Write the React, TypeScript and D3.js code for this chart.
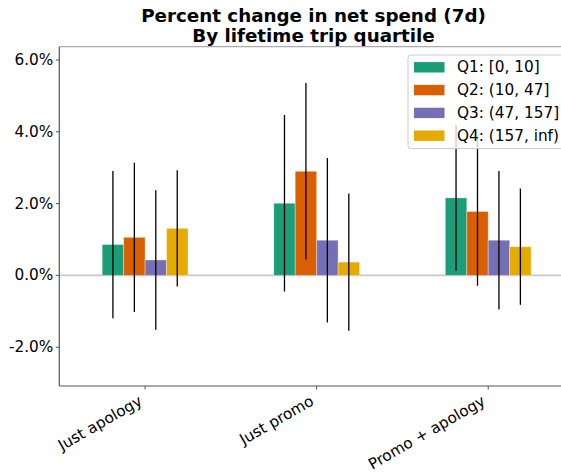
import React from "react";
import * as d3 from "d3";

// Categories and series (values in percent)
const categories = ["Just apology", "Just promo", "Promo + apology"];
const quartiles = ["Q1: [0, 10]", "Q2: (10, 47]", "Q3: (47, 157]", "Q4: (157, inf)"];
const colors = ["#1b9e77", "#d95f02", "#7570b3", "#e6ab02"];

const q1Values = [0.86, 2.01, 2.16];
const q2Values = [1.06, 2.9, 1.78];
const q3Values = [0.43, 0.98, 0.98];
const q4Values = [1.31, 0.37, 0.8];

const q1Errors = [2.05, 2.46, 2.03];
const q2Errors = [2.08, 2.46, 2.07];
const q3Errors = [1.94, 2.29, 1.93];
const q4Errors = [1.62, 1.91, 1.62];

const yTicks = [-2, 0, 2, 4, 6];
const titleLines = ["Percent change in net spend (7d)", "By lifetime trip quartile"];

const seriesValues = [q1Values, q2Values, q3Values, q4Values];
const seriesErrors = [q1Errors, q2Errors, q3Errors, q4Errors];

const W = 561;
const H = 472;
const plot = { left: 59.3, right: 574, top: 46.7, bottom: 386 };
const FONT = "'DejaVu Sans', sans-serif";
const TICK_FONT = 15.3;

export default function App() {
  const x = d3.scaleLinear().domain([-0.5, categories.length - 0.5]).range([plot.left, plot.right]);
  const y = d3.scaleLinear().domain([-3.08, 6.37]).range([plot.bottom, plot.top]);
  const groupWidth = 0.5;
  const barW = groupWidth / quartiles.length;
  const fmt = (v: number) => `${v < 0 ? "-" : ""}${Math.abs(v).toFixed(1)}%`;

  return (
    <svg
      width={W}
      height={H}
      style={{ position: "absolute", left: 0, top: 0, background: "#fff" }}
      fontFamily={FONT}
    >
      <defs>
        <clipPath id="plotClip">
          <rect x={plot.left} y={plot.top} width={plot.right - plot.left} height={plot.bottom - plot.top} />
        </clipPath>
      </defs>

      {/* title */}
      {titleLines.map((t, i) => (
        <text
          key={t}
          x={313.5}
          y={21.5 + i * 20.3}
          textAnchor="middle"
          fontWeight="bold"
          fontSize={18.3}
          fill="#000"
        >
          {t}
        </text>
      ))}

      <g clipPath="url(#plotClip)">
        {/* zero reference line */}
        <line x1={plot.left} x2={plot.right} y1={y(0)} y2={y(0)} stroke="#c8c8c8" strokeWidth={1.6} />

        {/* bars */}
        {seriesValues.map((vals, s) =>
          vals.map((v, c) => {
            const x0 = x(c - groupWidth / 2 + s * barW);
            const x1 = x(c - groupWidth / 2 + (s + 1) * barW);
            return (
              <rect
                key={`b${s}-${c}`}
                x={x0}
                width={x1 - x0}
                y={Math.min(y(v), y(0))}
                height={Math.abs(y(v) - y(0))}
                fill={colors[s]}
                stroke="rgba(255,255,255,0.35)"
                strokeWidth={1}
              />
            );
          })
        )}

        {/* error bars */}
        {seriesValues.map((vals, s) =>
          vals.map((v, c) => {
            const cx = x(c - groupWidth / 2 + (s + 0.5) * barW);
            const e = seriesErrors[s][c];
            return (
              <line
                key={`e${s}-${c}`}
                x1={cx}
                x2={cx}
                y1={y(v + e)}
                y2={y(v - e)}
                stroke="#000"
                strokeWidth={1.3}
              />
            );
          })
        )}
      </g>

      {/* spines */}
      <line x1={plot.left} x2={plot.right} y1={plot.top} y2={plot.top} stroke="#aaaaaa" strokeWidth={1.3} />
      <line x1={plot.left} x2={plot.left} y1={plot.top} y2={plot.bottom} stroke="#555" strokeWidth={1.2} />
      <line x1={plot.left} x2={plot.right} y1={plot.bottom} y2={plot.bottom} stroke="#555" strokeWidth={1.2} />

      {/* y axis */}
      {yTicks.map((t) => (
        <g key={`yt${t}`}>
          <line x1={plot.left - 3.5} x2={plot.left} y1={y(t)} y2={y(t)} stroke="#555" strokeWidth={1} />
          <text
            x={plot.left - 6}
            y={y(t)}
            textAnchor="end"
            dominantBaseline="central"
            fontSize={TICK_FONT}
            fill="#000"
          >
            {fmt(t)}
          </text>
        </g>
      ))}

      {/* x axis */}
      {categories.map((c, i) => {
        const tx = x(i);
        const px = tx - 1.8;
        const py = plot.bottom + 18;
        return (
          <g key={c}>
            <line x1={tx} x2={tx} y1={plot.bottom} y2={plot.bottom + 3.5} stroke="#555" strokeWidth={1} />
            <text
              x={px}
              y={py}
              textAnchor="end"
              fontSize={TICK_FONT}
              fill="#000"
              transform={`rotate(-30, ${px}, ${py})`}
            >
              {c}
            </text>
          </g>
        );
      })}

      {/* legend */}
      <g>
        <rect
          x={408}
          y={55}
          width={170}
          height={93.5}
          rx={3}
          fill="#fff"
          fillOpacity={0.8}
          stroke="#cccccc"
          strokeWidth={1}
        />
        {quartiles.map((q, i) => {
          const cy = 67.3 + i * 22.8;
          return (
            <g key={q}>
              <rect x={414} y={cy - 5.2} width={30.5} height={10.4} fill={colors[i]} />
              <text x={457} y={cy} dominantBaseline="central" fontSize={TICK_FONT} fill="#000">
                {q}
              </text>
            </g>
          );
        })}
      </g>
    </svg>
  );
}
